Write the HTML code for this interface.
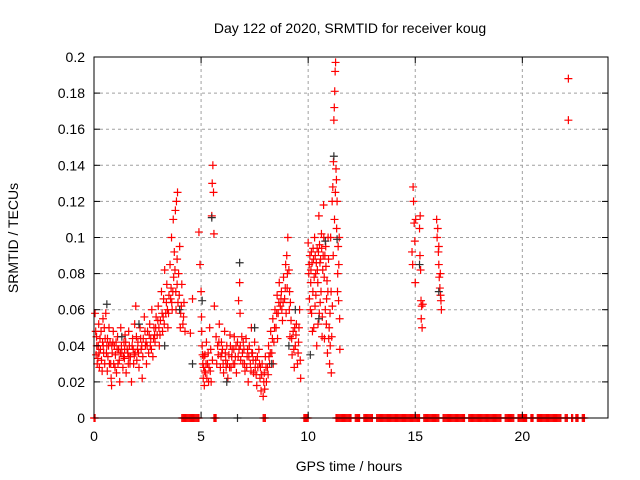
<!DOCTYPE html>
<html><head><meta charset="utf-8"><style>
body{margin:0;background:#fff;}
svg{display:block;font-family:"Liberation Sans",sans-serif;}
</style></head><body>
<svg id="chart" width="640" height="480">
<text x="350" y="33" font-size="14" text-anchor="middle">Day 122 of 2020, SRMTID for receiver koug</text>
<text x="349" y="471" font-size="14" text-anchor="middle">GPS time / hours</text>
<text x="18" y="238" font-size="14" text-anchor="middle" transform="rotate(-90 18 238)">SRMTID / TECUs</text>
<g id="grid"></g><g id="marks"></g><g id="axes"></g>
</svg>
<script>
const xTicks=[0,5,10,15,20];
const yTicks=[0,0.02,0.04,0.06,0.08,0.1,0.12,0.14,0.16,0.18,0.2];
const yTickLabels=["0","0.02","0.04","0.06","0.08","0.1","0.12","0.14","0.16","0.18","0.2"];
const redPoints=[
[0.05,0.058],[0.1,0.035],[0.12,0.045],[0.15,0.03],[0.2,0.04],[0.22,0.052],[0.25,0.028],[0.3,0.038],[0.33,0.048],[0.35,0.032],[0.4,0.042],[0.42,0.055],[0.45,0.036],[0.5,0.03],[0.52,0.044],[0.55,0.058],[0.6,0.04],[0.62,0.026],[0.65,0.034],[0.7,0.05],[0.72,0.03],[0.75,0.042],[0.8,0.022],[0.82,0.018],[0.85,0.036],[0.9,0.048],[0.92,0.03],[0.95,0.04],[1.0,0.035],[1.05,0.025],[1.1,0.045],[1.12,0.03],[1.15,0.038],[1.2,0.02],[1.25,0.05],[1.3,0.036],[1.35,0.028],[1.4,0.042],[1.42,0.033],[1.45,0.046],[1.5,0.025],[1.55,0.038],[1.6,0.03],[1.62,0.048],[1.65,0.04],[1.7,0.034],[1.75,0.02],[1.8,0.044],[1.85,0.03],[1.9,0.052],[1.92,0.036],[1.95,0.062],[2.0,0.032],[2.05,0.042],[2.1,0.028],[2.15,0.05],[2.2,0.038],[2.25,0.022],[2.3,0.044],[2.35,0.056],[2.4,0.04],[2.45,0.03],[2.5,0.048],[2.55,0.036],[2.6,0.052],[2.65,0.044],[2.7,0.06],[2.75,0.034],[2.8,0.05],[2.85,0.042],[2.9,0.056],[2.95,0.046],[3.0,0.062],[3.05,0.04],[3.1,0.054],[3.15,0.07],[3.2,0.048],[3.25,0.066],[3.3,0.082],[3.35,0.058],[3.4,0.074],[3.45,0.05],[3.5,0.068],[3.55,0.085],[3.6,0.072],[3.62,0.1],[3.65,0.06],[3.7,0.11],[3.72,0.078],[3.75,0.092],[3.8,0.115],[3.82,0.07],[3.85,0.12],[3.88,0.088],[3.9,0.125],[3.92,0.064],[3.95,0.08],[4.0,0.095],[4.05,0.058],[4.1,0.074],[4.15,0.052],[4.2,0.064],[4.25,0.048],
[4.5,0.047],[4.6,0.066],[4.9,0.103],[4.95,0.085],[5.0,0.07],[5.02,0.056],[5.05,0.04],[5.08,0.03],[5.1,0.022],[5.12,0.028],[5.15,0.018],[5.18,0.035],[5.2,0.025],[5.25,0.042],[5.3,0.03],[5.35,0.02],[5.4,0.05],[5.45,0.038],[5.5,0.112],[5.52,0.13],[5.55,0.14],[5.58,0.125],[5.6,0.102],[5.62,0.062],[5.7,0.045],[5.8,0.035],[5.85,0.052],[5.9,0.028],[5.95,0.042],[6.0,0.038],[6.05,0.025],[6.1,0.048],[6.15,0.032],[6.2,0.04],[6.25,0.022],[6.3,0.035],[6.35,0.046],[6.4,0.028],[6.45,0.038],[6.5,0.03],[6.55,0.045],[6.6,0.034],[6.65,0.025],[6.7,0.042],[6.75,0.065],[6.8,0.075],[6.82,0.058],[6.85,0.032],[6.9,0.045],[6.95,0.03],[7.0,0.038],[7.05,0.026],[7.1,0.044],[7.15,0.034],[7.2,0.02],[7.25,0.04],[7.3,0.03],[7.35,0.05],[7.4,0.036],[7.45,0.025],[7.5,0.042],[7.55,0.032],[7.6,0.018],[7.65,0.028],[7.7,0.038],[7.75,0.022],[7.8,0.015],[7.85,0.03],[7.9,0.012],[7.95,0.025],[8.0,0.034],[8.05,0.02],[8.1,0.028],[8.15,0.04],[8.2,0.03],[8.25,0.048],[8.3,0.036],[8.35,0.055],[8.4,0.042],[8.45,0.06],[8.5,0.05],[8.55,0.068],[8.6,0.058],[8.65,0.075],[8.7,0.062],[8.75,0.07],[8.8,0.054],[8.85,0.078],[8.9,0.066],[8.95,0.085],[9.0,0.09],[9.02,0.072],[9.05,0.1],[9.1,0.082],[9.12,0.06],[9.15,0.045],[9.2,0.054],[9.25,0.035],[9.3,0.048],[9.35,0.028],[9.4,0.04],[9.45,0.052],[9.5,0.03],[9.55,0.042],[9.6,0.06],[9.65,0.022],
[10.0,0.097],[10.05,0.085],[10.1,0.06],[10.12,0.075],[10.15,0.092],[10.2,0.048],[10.22,0.07],[10.25,0.088],[10.3,0.1],[10.32,0.062],[10.35,0.08],[10.4,0.04],[10.42,0.094],[10.45,0.075],[10.5,0.112],[10.52,0.058],[10.55,0.086],[10.6,0.07],[10.62,0.102],[10.65,0.045],[10.7,0.09],[10.72,0.118],[10.75,0.078],[10.8,0.06],[10.82,0.095],[10.85,0.052],[10.9,0.036],[10.92,0.07],[10.95,0.088],[11.0,0.03],[11.02,0.058],[11.05,0.1],[11.08,0.025],[11.1,0.045],[11.12,0.12],[11.15,0.128],[11.18,0.142],[11.2,0.165],[11.22,0.172],[11.24,0.181],[11.26,0.192],[11.28,0.197],[11.3,0.138],[11.32,0.132],[11.35,0.12],[11.38,0.08],[11.4,0.095],[11.42,0.065],[11.45,0.1],[11.48,0.038],
[14.85,0.092],[14.88,0.085],[14.9,0.128],[14.92,0.12],[14.95,0.108],[14.98,0.098],[15.0,0.075],[15.02,0.11],[15.2,0.105],[15.22,0.09],[15.25,0.082],[15.27,0.065],[15.3,0.062],[15.28,0.055],[15.32,0.05],[15.35,0.063],[15.23,0.112],
[16.0,0.11],[16.02,0.1],[16.05,0.105],[16.08,0.092],[16.1,0.085],[16.12,0.078],[16.15,0.072],[16.18,0.068],[16.2,0.065],[16.22,0.06],[16.1,0.095],[16.17,0.08],
[22.15,0.188],[22.15,0.165]
];
const redPointsExtra=[
[0.08,0.048],[0.18,0.033],[0.28,0.044],[0.38,0.026],[0.48,0.05],[0.58,0.036],[0.68,0.04],[0.78,0.03],[0.88,0.042],[0.98,0.028],[1.08,0.038],[1.18,0.032],[1.28,0.04],[1.38,0.034],[1.48,0.042],[1.58,0.036],[1.68,0.03],[1.78,0.04],[1.88,0.035],[1.98,0.045],[2.08,0.036],[2.18,0.044],[2.28,0.034],[2.38,0.048],[2.48,0.04],[2.58,0.046],[2.68,0.038],[2.78,0.044],[2.88,0.05],[2.98,0.054],[3.08,0.046],[3.18,0.058],[3.28,0.052],[3.38,0.064],[3.48,0.058],[3.58,0.066],[3.68,0.07],[3.78,0.082],[3.88,0.074],[3.98,0.068],[4.08,0.062],[4.18,0.056],
[0.13,0.04],[0.23,0.036],[0.43,0.04],[0.63,0.044],[0.83,0.04],[1.03,0.042],[1.23,0.036],[1.43,0.038],[1.63,0.034],[1.83,0.038],[2.03,0.038],[2.23,0.04],[2.43,0.042],[2.63,0.04],[2.83,0.046],[3.03,0.05],[3.23,0.056],[3.43,0.06],[3.63,0.064],[3.83,0.06],[4.03,0.05],
[5.03,0.048],[5.13,0.034],[5.23,0.03],[5.33,0.036],[5.43,0.026],[5.53,0.032],[5.73,0.03],[5.83,0.042],[5.93,0.034],[6.03,0.03],[6.13,0.036],[6.23,0.03],[6.33,0.028],[6.43,0.034],[6.53,0.038],[6.63,0.04],[6.73,0.034],[6.83,0.04],[6.93,0.036],[7.03,0.03],[7.13,0.028],[7.23,0.034],[7.33,0.026],[7.43,0.032],[7.53,0.028],[7.63,0.034],[7.73,0.03],[7.83,0.024],[7.93,0.02],[8.03,0.028],[8.13,0.024],[8.23,0.036],[8.33,0.044],[8.43,0.05],[8.53,0.058],[8.63,0.064],[8.73,0.066],[8.83,0.064],[8.93,0.072],[9.03,0.08],[9.13,0.07],[9.23,0.044],[9.33,0.038],[9.43,0.046],[9.53,0.036],[9.63,0.032],
[5.07,0.035],[5.17,0.026],[5.27,0.022],[5.37,0.028],[5.47,0.02],[5.77,0.04],[5.97,0.036],[6.17,0.028],[6.37,0.04],[6.57,0.03],[6.77,0.038],[6.97,0.042],[7.17,0.038],[7.37,0.036],[7.57,0.024],[7.77,0.028],[7.97,0.016],[8.17,0.034],[8.37,0.03],[8.57,0.044],[8.77,0.06],[8.97,0.058],[9.17,0.064],[9.37,0.05],[9.57,0.05],
[10.03,0.08],[10.08,0.09],[10.13,0.082],[10.18,0.086],[10.23,0.094],[10.28,0.078],[10.33,0.09],[10.38,0.086],[10.43,0.082],[10.48,0.092],[10.53,0.096],[10.58,0.088],[10.63,0.094],[10.68,0.082],[10.73,0.1],[10.78,0.09],[10.83,0.084],[10.88,0.076],[10.93,0.1],[10.98,0.05],[11.03,0.04],[11.07,0.07],[11.13,0.062],[11.17,0.09],[11.23,0.11],[11.27,0.125],[11.33,0.105],[11.37,0.07],[11.43,0.085],[11.47,0.055],[10.06,0.066],[10.16,0.058],[10.26,0.05],[10.36,0.068],[10.46,0.052],[10.56,0.064],[10.66,0.056],[10.76,0.044],[10.86,0.066],[10.96,0.044]
];
const blackPoints=[[0.6,0.063],[1.3,0.045],[2.1,0.052],[3.3,0.04],[4.0,0.06],[4.6,0.03],[5.05,0.065],[5.5,0.111],[6.2,0.02],[6.8,0.086],[7.5,0.05],[8.3,0.03],[9.1,0.04],[9.4,0.06],[10.1,0.035],[10.5,0.055],[10.8,0.098],[11.2,0.145],[11.35,0.099],[15.2,0.085],[16.1,0.07],[6.7,0.0]];
const zeroHours=[0,0.05,4.1,4.15,4.2,4.25,4.3,4.35,4.4,4.45,4.5,4.55,4.6,4.65,4.7,4.75,4.8,4.85,4.9,5.6,5.65,5.7,7.9,7.95,8.0,9.8,9.85,9.9,9.95,10.0,11.3,11.35,11.4,11.45,11.5,11.55,11.6,11.65,11.7,11.75,11.8,11.85,11.9,11.95,12.0,12.2,12.25,12.3,12.35,12.4,12.6,12.65,12.7,12.75,12.8,12.85,12.9,12.95,13.0,13.2,13.25,13.3,13.35,13.4,13.45,13.5,13.55,13.6,13.65,13.7,13.75,13.8,13.85,13.9,13.95,14.0,14.05,14.1,14.15,14.2,14.25,14.3,14.35,14.4,14.45,14.5,14.55,14.6,14.65,14.7,14.75,14.8,14.85,14.9,14.95,15.0,15.05,15.1,15.15,15.2,15.4,15.45,15.5,15.55,15.6,15.65,15.7,15.75,15.8,15.85,15.9,15.95,16.0,16.05,16.1,16.3,16.35,16.4,16.45,16.5,16.55,16.6,16.65,16.7,16.75,16.8,16.85,16.9,16.95,17.0,17.05,17.1,17.15,17.2,17.25,17.3,17.5,17.55,17.6,17.65,17.7,17.75,17.8,17.85,17.9,17.95,18.0,18.05,18.1,18.15,18.2,18.25,18.3,18.35,18.4,18.45,18.5,18.55,18.6,18.65,18.7,18.75,18.8,18.85,18.9,18.95,19.0,19.2,19.25,19.3,19.35,19.4,19.45,19.5,19.55,19.6,19.8,19.85,19.9,19.95,20.0,20.05,20.1,20.15,20.2,20.4,20.45,20.5,20.7,20.75,20.8,20.85,20.9,20.95,21.0,21.05,21.1,21.15,21.2,21.25,21.3,21.35,21.4,21.45,21.5,21.55,21.6,21.65,21.7,21.75,21.8,22.0,22.05,22.1,22.3,22.35,22.5,22.55,22.6,22.8,22.85,22.9];
const L=94,R=608,T=57,B=418,XMAX=24,YMAX=0.2;
const xs=h=>L+h/XMAX*(R-L), ys=v=>B-v/YMAX*(B-T);
const NS="http://www.w3.org/2000/svg";
function mk(tag,attrs,parent){const e=document.createElementNS(NS,tag);for(const k in attrs)e.setAttribute(k,attrs[k]);parent.appendChild(e);return e;}
const grid=document.getElementById('grid'),marks=document.getElementById('marks'),axes=document.getElementById('axes');
yTicks.forEach((t,i)=>{const y=ys(t);
 if(i>0&&i<yTicks.length-1){const g=mk('line',{x1:L,x2:R,y1:y,y2:y,stroke:'#a0a0a0','stroke-dasharray':'3,3'},grid);
 
 }
 mk('line',{x1:L,x2:L+6,y1:y,y2:y,stroke:'#000'},axes);mk('line',{x1:R,x2:R-6,y1:y,y2:y,stroke:'#000'},axes);
 const tx=mk('text',{x:L-9,y:y+5,'font-size':14,'text-anchor':'end'},axes);tx.textContent=yTickLabels[i];
 
 });
xTicks.forEach(t=>{const x=xs(t);
 if(t>0){const g=mk('line',{x1:x,x2:x,y1:T,y2:B,stroke:'#a0a0a0','stroke-dasharray':'3,3'},grid);
 
 }
 mk('line',{x1:x,x2:x,y1:B,y2:B-6,stroke:'#000'},axes);mk('line',{x1:x,x2:x,y1:T,y2:T+6,stroke:'#000'},axes);
 const tx=mk('text',{x:x,y:B+23,'font-size':14,'text-anchor':'middle'},axes);tx.textContent=String(t);
 
 });
const frame=mk('rect',{x:L,y:T,width:R-L,height:B-T,fill:'none',stroke:'#000'},axes);


function plus(h,v,col,name){const x=xs(h),y=ys(v);
 const p=mk('path',{d:`M${x-4},${y}H${x+4}M${x},${y-4}V${y+4}`,stroke:col,'stroke-width':1.2,fill:'none'},marks);
 
 }
redPoints.forEach(p=>plus(p[0],p[1],'#ff0000','srmtid-point'));
redPointsExtra.forEach(p=>plus(p[0],p[1],'#ff0000','srmtid-point'));
zeroHours.forEach(h=>plus(h,0,'#ff0000','zero-point'));
blackPoints.forEach(p=>plus(p[0],p[1],'#303030','secondary-point'));
</script>
</body></html>
